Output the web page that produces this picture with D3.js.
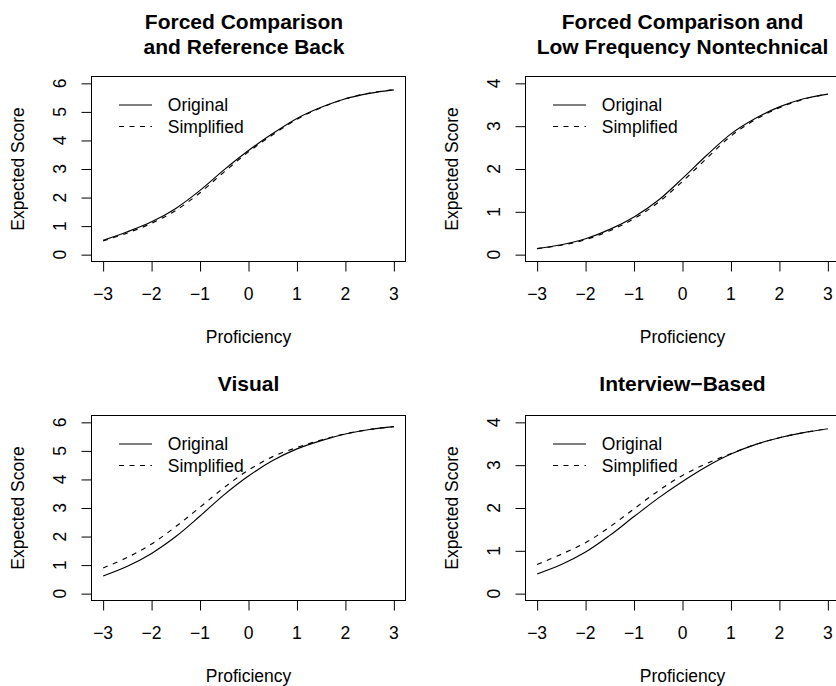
<!DOCTYPE html>
<html>
<head>
<meta charset="utf-8">
<script src="https://cdn.jsdelivr.net/npm/d3@7"></script>
<style>
  html, body { margin: 0; padding: 0; background: #fff; }
  svg { display: block; }
  text { font-family: "Liberation Sans", Arial, Helvetica, sans-serif; fill: #000; }
</style>
</head>
<body>
<svg id="chart" width="836" height="686"></svg>
<script>
// ---- data ----
const theta = [-3, -2.5, -2, -1.5, -1, -0.5, 0, 0.5, 1, 1.5, 2, 2.5, 3];
const xTicks = [-3, -2, -1, 0, 1, 2, 3];
const seriesNames = ["Original", "Simplified"];

const titles = [
  ["Forced Comparison", "and Reference Back"],
  ["Forced Comparison and", "Low Frequency Nontechnical"],
  ["Visual"],
  ["Interview\u2212Based"]
];
const yMax = [6, 4, 6, 4];

const original1   = [0.50, 0.80, 1.15, 1.62, 2.25, 2.98, 3.65, 4.24, 4.77, 5.16, 5.46, 5.65, 5.77];
const simplified1 = [0.48, 0.76, 1.10, 1.55, 2.17, 2.90, 3.60, 4.20, 4.74, 5.15, 5.46, 5.66, 5.78];

const original2   = [0.14, 0.23, 0.37, 0.59, 0.88, 1.27, 1.78, 2.32, 2.82, 3.18, 3.45, 3.64, 3.75];
const simplified2 = [0.14, 0.22, 0.35, 0.56, 0.84, 1.22, 1.71, 2.25, 2.77, 3.15, 3.43, 3.63, 3.75];

const original3   = [0.62, 0.96, 1.41, 2.00, 2.72, 3.47, 4.12, 4.66, 5.07, 5.36, 5.59, 5.75, 5.85];
const simplified3 = [0.90, 1.27, 1.74, 2.35, 3.03, 3.72, 4.33, 4.80, 5.12, 5.38, 5.60, 5.75, 5.85];

const original4   = [0.46, 0.68, 0.97, 1.36, 1.80, 2.23, 2.62, 2.97, 3.26, 3.48, 3.64, 3.76, 3.85];
const simplified4 = [0.68, 0.92, 1.19, 1.56, 1.98, 2.40, 2.76, 3.04, 3.27, 3.48, 3.64, 3.76, 3.85];

const panelData = [
  [original1, simplified1],
  [original2, simplified2],
  [original3, simplified3],
  [original4, simplified4]
];

// ---- layout ----
const boxes = [
  { left: 91.5,  top: 76.5 },
  { left: 525.5, top: 76.5 },
  { left: 91.5,  top: 415.5 },
  { left: 525.5, top: 415.5 }
];
const boxW = 314, boxH = 185;
const baseFont = 17.5, titleFont = 21;
const dashes = ["none", "5,5.5"];

const svg = d3.select("#chart");

panelData.forEach((series, i) => {
  const b = boxes[i];
  const g = svg.append("g");
  const ym = yMax[i];
  const x = d3.scaleLinear().domain([-3.24, 3.24]).range([b.left, b.left + boxW]);
  const y = d3.scaleLinear().domain([-0.04 * ym, 1.04 * ym]).range([b.top + boxH, b.top]);
  const yTicks = d3.range(0, ym + 1);

  // box
  g.append("rect")
    .attr("x", b.left).attr("y", b.top)
    .attr("width", boxW).attr("height", boxH)
    .attr("fill", "none").attr("stroke", "#000").attr("stroke-width", 1);

  // x axis
  const bottom = b.top + boxH;
  const xAxis = d3.axisBottom(x).tickValues(xTicks).tickSize(10).tickSizeOuter(0).tickFormat("");
  const xg = g.append("g").attr("transform", `translate(0,${bottom})`).call(xAxis);
  xg.select(".domain").remove();
  xg.selectAll(".tick line").attr("stroke", "#000").attr("stroke-width", 1);
  g.append("line")
    .attr("x1", x(xTicks[0])).attr("x2", x(xTicks[xTicks.length - 1]))
    .attr("y1", bottom).attr("y2", bottom)
    .attr("stroke", "#000");
  g.selectAll(".xlab").data(xTicks).enter().append("text")
    .attr("x", d => x(d)).attr("y", bottom + 38.5)
    .attr("text-anchor", "middle")
    .style("font-size", baseFont + "px")
    .text(d => d < 0 ? "\u2212" + Math.abs(d) : String(d));

  // y axis
  const yAxis = d3.axisLeft(y).tickValues(yTicks).tickSize(10).tickSizeOuter(0).tickFormat("");
  const yg = g.append("g").attr("transform", `translate(${b.left},0)`).call(yAxis);
  yg.select(".domain").remove();
  yg.selectAll(".tick line").attr("stroke", "#000").attr("stroke-width", 1);
  g.append("line")
    .attr("x1", b.left).attr("x2", b.left)
    .attr("y1", y(0)).attr("y2", y(ym))
    .attr("stroke", "#000");
  g.selectAll(".ylab").data(yTicks).enter().append("text")
    .attr("transform", d => `translate(${b.left - 26},${y(d)}) rotate(-90)`)
    .attr("text-anchor", "middle")
    .style("font-size", baseFont + "px")
    .text(d => String(d));

  // axis titles
  g.append("text")
    .attr("x", b.left + boxW / 2).attr("y", bottom + 81)
    .attr("text-anchor", "middle")
    .style("font-size", baseFont + "px")
    .text("Proficiency");
  g.append("text")
    .attr("transform", `translate(${b.left - 68},${b.top + boxH / 2}) rotate(-90)`)
    .attr("text-anchor", "middle")
    .style("font-size", baseFont + "px")
    .text("Expected Score");

  // title
  const t = titles[i];
  const tx = b.left + boxW / 2 - (i === 0 ? 4.5 : 0);
  t.forEach((line, k) => {
    const base = t.length === 2 ? (k === 0 ? b.top - 47.5 : b.top - 22.8) : b.top - 24.3;
    g.append("text")
      .attr("x", tx).attr("y", base)
      .attr("text-anchor", "middle")
      .style("font-size", titleFont + "px")
      .style("font-weight", "bold")
      .text(line);
  });

  // curves
  const lineGen = d3.line()
    .x((d, j) => x(theta[j]))
    .y(d => y(d))
    .curve(d3.curveCatmullRom.alpha(0.5));
  series.forEach((vals, s) => {
    g.append("path")
      .attr("d", lineGen(vals))
      .attr("fill", "none")
      .attr("stroke", "#000")
      .attr("stroke-width", 1.15)
      .attr("stroke-dasharray", dashes[s]);
  });

  // legend
  seriesNames.forEach((name, s) => {
    const ly = b.top + 28.5 + s * 21.5;
    g.append("line")
      .attr("x1", b.left + 27.5).attr("x2", b.left + 60.5)
      .attr("y1", ly).attr("y2", ly)
      .attr("stroke", "#000").attr("stroke-width", 1.15)
      .attr("stroke-dasharray", dashes[s]);
    g.append("text")
      .attr("x", b.left + 76.3).attr("y", ly + 6.2)
      .style("font-size", baseFont + "px")
      .text(name);
  });
});
</script>
</body>
</html>
